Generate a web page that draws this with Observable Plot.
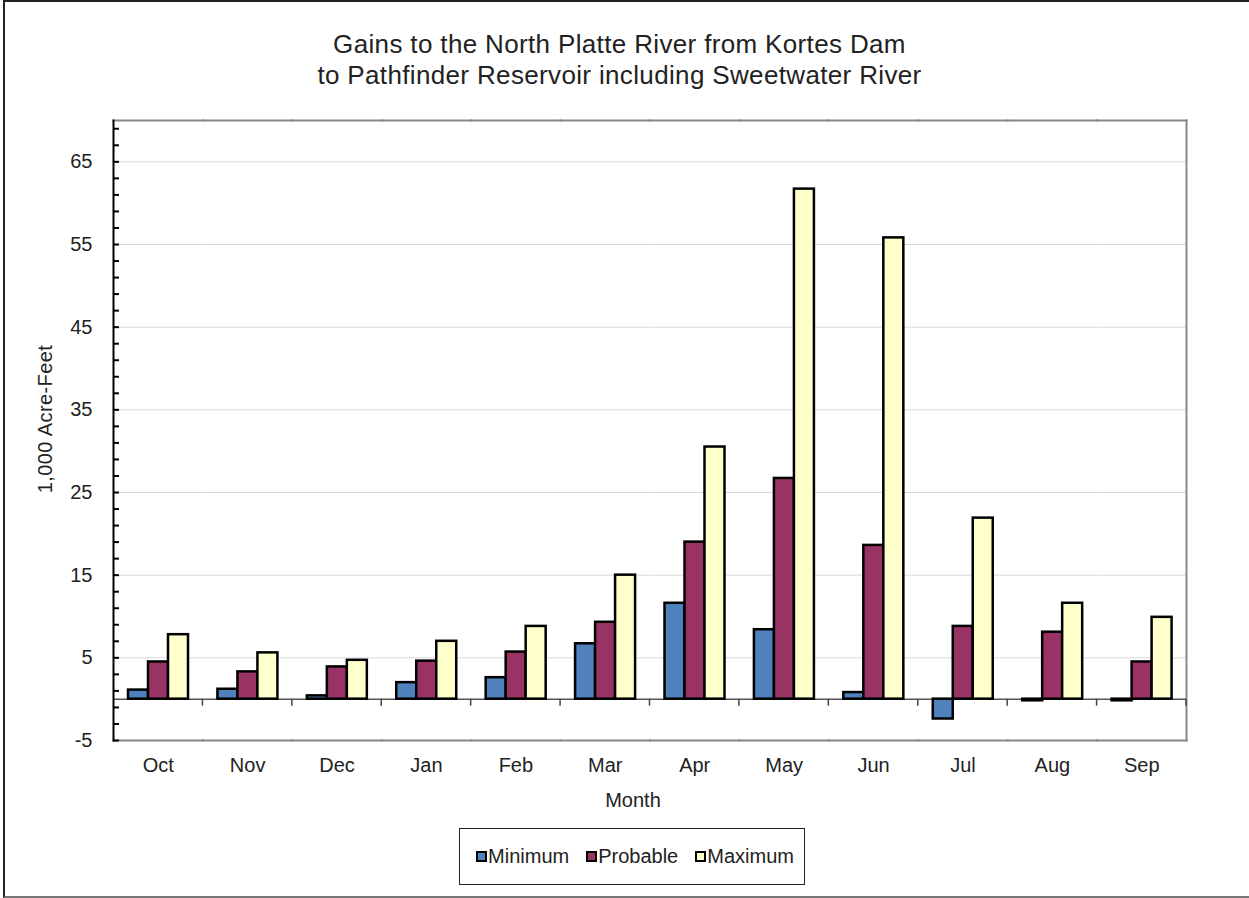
<!DOCTYPE html>
<html>
<head>
<meta charset="utf-8">
<script src="https://cdn.jsdelivr.net/npm/d3@7"></script>
<script src="https://cdn.jsdelivr.net/npm/@observablehq/plot@0.6"></script>
<style>
  html, body { margin: 0; padding: 0; background: #fff; }
  body { font-family: "Liberation Sans", Arial, sans-serif; color: #222; }
  #page { position: relative; width: 1249px; height: 898px; overflow: hidden; background: #fff; }
  #border { position: absolute; left: 3px; top: 0; width: 1260px; height: 898px; box-sizing: border-box;
            border-left: 2px solid #222; border-top: 2px solid #222; border-bottom: 2px solid #777; }
  #title { position: absolute; left: 0; top: 29px; width: 1239px; text-align: center;
           font-size: 26px; line-height: 31px; letter-spacing: 0.35px; color: #222; }
  #chart { position: absolute; left: 0; top: 100px; }
  #ylabel { position: absolute; left: 45px; top: 419px; transform: translate(-50%, -50%) rotate(-90deg);
            white-space: nowrap; font-size: 20px; letter-spacing: 0.4px; }
  #xlabel { position: absolute; left: 633px; top: 800px; transform: translate(-50%, -50%);
            white-space: nowrap; font-size: 20px; }
  #legend { position: absolute; left: 459px; top: 828px; width: 346px; height: 57px; box-sizing: border-box;
            border: 1px solid #222; display: flex; align-items: center; justify-content: center; gap: 17px;
            font-size: 20px; padding-left: 6px; }
  .item { display: flex; align-items: center; gap: 1px; }
  .sw { width: 7px; height: 7px; border: 2px solid #000; }
</style>
</head>
<body>
<div id="page">
  <div id="border"></div>
  <div id="title">Gains to the North Platte River from Kortes Dam<br>to Pathfinder Reservoir including Sweetwater River</div>
  <div id="chart"></div>
  <div id="ylabel">1,000 Acre-Feet</div>
  <div id="xlabel">Month</div>
  <div id="legend"></div>
</div>
<script>
// Monthly gains, in 1,000 acre-feet
const months = ["Oct", "Nov", "Dec", "Jan", "Feb", "Mar", "Apr", "May", "Jun", "Jul", "Aug", "Sep"];
const series = ["Minimum", "Probable", "Maximum"];
const minimum  = [1.1, 1.2, 0.4, 2.0, 2.6, 6.7, 11.6, 8.4, 0.8, -2.4, -0.2, -0.2];
const probable = [4.5, 3.3, 3.9, 4.6, 5.7, 9.3, 19.0, 26.7, 18.6, 8.8, 8.1, 4.5];
const maximum  = [7.8, 5.6, 4.7, 7.0, 8.8, 15.0, 30.5, 61.7, 55.8, 21.9, 11.6, 9.9];
const seriesColors = ["#4f81bd", "#993366", "#ffffcc"];
const yLabelTicks = [-5, 5, 15, 25, 35, 45, 55, 65];
const yGridTicks = [5, 15, 25, 35, 45, 55, 65];
const yMinorTicks = d3.range(-5, 70, 2);

const valuesBySeries = [minimum, probable, maximum];
const data = months.flatMap((month, i) =>
  series.map((s, k) => ({month, series: s, value: valuesBySeries[k][i]}))
);

const chart = Plot.plot({
  width: 1249,
  height: 720,
  marginTop: 20,
  marginBottom: 80,
  marginLeft: 113,
  marginRight: 63,
  style: {fontFamily: "'Liberation Sans', Arial, sans-serif", fontSize: "20px", color: "#222", background: "transparent"},
  fx: {domain: months, padding: 0, round: false, label: null},
  x: {domain: series, axis: null, paddingInner: 0, paddingOuter: 0.735},
  y: {domain: [-5, 70], label: null},
  color: {domain: series, range: seriesColors},
  marks: [
    Plot.ruleY(yGridTicks, {stroke: "#d9d9d9", strokeWidth: 1}),
    Plot.frame({anchor: "top", stroke: "#888", strokeWidth: 2}),
    Plot.frame({anchor: "bottom", stroke: "#888", strokeWidth: 2}),
    Plot.frame({anchor: "right", facetAnchor: "right", stroke: "#888", strokeWidth: 2}),
    Plot.ruleY([0], {stroke: "#555", strokeWidth: 1.5}),
    Plot.barY(data, {fx: "month", x: "series", y: "value", fill: "series", stroke: "#000", strokeWidth: 2.5}),
    Plot.frame({anchor: "left", facetAnchor: "left", stroke: "#000", strokeWidth: 2}),
    Plot.axisY(yMinorTicks, {tickSize: 6, insetLeft: 6, stroke: "#000", strokeWidth: 2, tickFormat: () => "", label: null}),
    Plot.axisY(yLabelTicks, {tickSize: 0, tickPadding: 21, fontSize: 20, label: null, tickFormat: d => String(d)}),
    Plot.axisFx({anchor: "bottom", tickSize: 0, tickPadding: 17, fontSize: 20, label: null})
  ]
});
document.getElementById("chart").append(chart);

// Category separator ticks hanging below the zero line
const fxDesc = chart.scale("fx");
const yDesc = chart.scale("y");
const fxBand = d3.scaleBand(fxDesc.domain, fxDesc.range)
  .paddingInner(fxDesc.paddingInner ?? 0)
  .paddingOuter(fxDesc.paddingOuter ?? 0)
  .align(fxDesc.align ?? 0.5)
  .round(!!fxDesc.round);
const yLin = d3.scaleLinear(yDesc.domain, yDesc.range);
d3.select(chart).append("g")
  .attr("stroke", "#444")
  .attr("stroke-width", 1.5)
  .selectAll("line")
  .data(months)
  .join("line")
  .attr("x1", m => fxBand(m) + fxBand.bandwidth())
  .attr("x2", m => fxBand(m) + fxBand.bandwidth())
  .attr("y1", yLin(0))
  .attr("y2", yLin(0) + 7);

// Legend
const legend = d3.select("#legend");
series.forEach((s, k) => {
  const item = legend.append("div").attr("class", "item");
  item.append("div").attr("class", "sw").style("background", seriesColors[k]);
  item.append("span").text(s);
});
</script>
</body>
</html>
